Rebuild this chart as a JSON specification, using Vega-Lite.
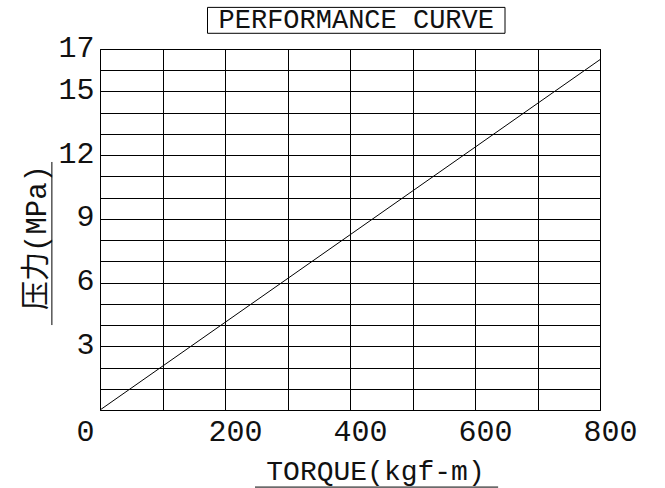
{
  "$schema": "https://vega.github.io/schema/vega-lite/v6.json",
  "width": 500,
  "height": 361,
  "autosize": {"type": "none"},
  "padding": {"left": 100, "top": 49, "right": 65, "bottom": 78},
  "background": "white",
  "config": {
    "view": {"stroke": "black", "strokeWidth": 1},
    "font": "Liberation Mono"
  },
  "resolve": {"axis": {"x": "independent", "y": "independent"}},
  "layer": [
    {
      "data": {"values": [{"torque": 0, "pressure": 0}, {"torque": 800, "pressure": 16.5}]},
      "mark": {"type": "line", "color": "black", "strokeWidth": 1},
      "encoding": {
        "x": {
          "field": "torque", "type": "quantitative",
          "scale": {"domain": [0, 800], "nice": false},
          "axis": {
            "values": [0, 100, 200, 300, 400, 500, 600, 700, 800],
            "labelExpr": "datum.value % 200 == 0 ? datum.label : ''",
            "grid": true, "gridColor": "black", "gridOpacity": 1, "gridWidth": 1,
            "domain": false, "ticks": false, "labelOverlap": false,
            "labelFont": "Liberation Mono", "labelFontSize": 30, "labelColor": "#111",
            "labelPadding": 6,
            "labelOffset": {"condition": {"test": "datum.value == 0", "value": -15}, "value": 10},
            "labelFlush": false,
            "title": "TORQUE(kgf-m)",
            "titleFont": "Liberation Mono", "titleFontSize": 28, "titleFontWeight": "normal", "titleColor": "#111",
            "titleX": 275, "titleY": 69, "titleBaseline": "alphabetic", "titleAlign": "center"
          }
        },
        "y": {
          "field": "pressure", "type": "quantitative",
          "scale": {"domain": [0, 17], "nice": false},
          "axis": {
            "values": [0, 1, 2, 3, 4, 5, 6, 7, 8, 9, 10, 11, 12, 13, 14, 15, 16, 17],
            "labelExpr": "indexof([3, 6, 9, 12, 15, 17], datum.value) >= 0 ? datum.label : ''",
            "grid": true, "gridColor": "black", "gridOpacity": 1, "gridWidth": 1,
            "domain": false, "ticks": false, "labelOverlap": false,
            "labelFont": "Liberation Mono", "labelFontSize": 30, "labelColor": "#111",
            "labelPadding": 6, "labelOffset": -2, "labelFlush": false,
            "title": "压力(MPa)",
            "titleFont": "Liberation Mono, Noto Sans CJK SC", "titleFontSize": 29, "titleFontWeight": "normal", "titleColor": "#111",
            "titleAngle": 270, "titleX": -55, "titleY": 188, "titleBaseline": "alphabetic", "titleAlign": "center"
          }
        }
      }
    },
    {
      "data": {"values": [{}]},
      "mark": {"type": "rect", "fill": "white", "fillOpacity": 0, "stroke": "black", "strokeWidth": 1},
      "encoding": {
        "x": {"datum": 172, "type": "quantitative", "scale": {"domain": [0, 800], "nice": false}, "axis": null},
        "x2": {"datum": 648},
        "y": {"datum": 17.74, "type": "quantitative", "scale": {"domain": [0, 17], "nice": false}, "axis": null},
        "y2": {"datum": 18.96}
      }
    },
    {
      "data": {"values": [{}]},
      "mark": {"type": "text", "text": "PERFORMANCE CURVE", "font": "Liberation Mono", "fontSize": 27, "color": "#111", "align": "center", "baseline": "middle"},
      "encoding": {
        "x": {"datum": 410, "type": "quantitative", "scale": {"domain": [0, 800], "nice": false}, "axis": null},
        "y": {"datum": 18.38, "type": "quantitative", "scale": {"domain": [0, 17], "nice": false}, "axis": null}
      }
    },
    {
      "data": {"values": [{}]},
      "mark": {"type": "rule", "color": "black", "strokeWidth": 1},
      "encoding": {
        "x": {"datum": 248, "type": "quantitative", "scale": {"domain": [0, 800], "nice": false}, "axis": null},
        "x2": {"datum": 637},
        "y": {"datum": -3.63, "type": "quantitative", "scale": {"domain": [0, 17], "nice": false}, "axis": null}
      }
    },
    {
      "data": {"values": [{}]},
      "mark": {"type": "rule", "color": "black", "strokeWidth": 1},
      "encoding": {
        "x": {"datum": -77, "type": "quantitative", "scale": {"domain": [0, 800], "nice": false}, "axis": null},
        "y": {"datum": 4.0, "type": "quantitative", "scale": {"domain": [0, 17], "nice": false}, "axis": null},
        "y2": {"datum": 11.68}
      }
    }
  ]
}
